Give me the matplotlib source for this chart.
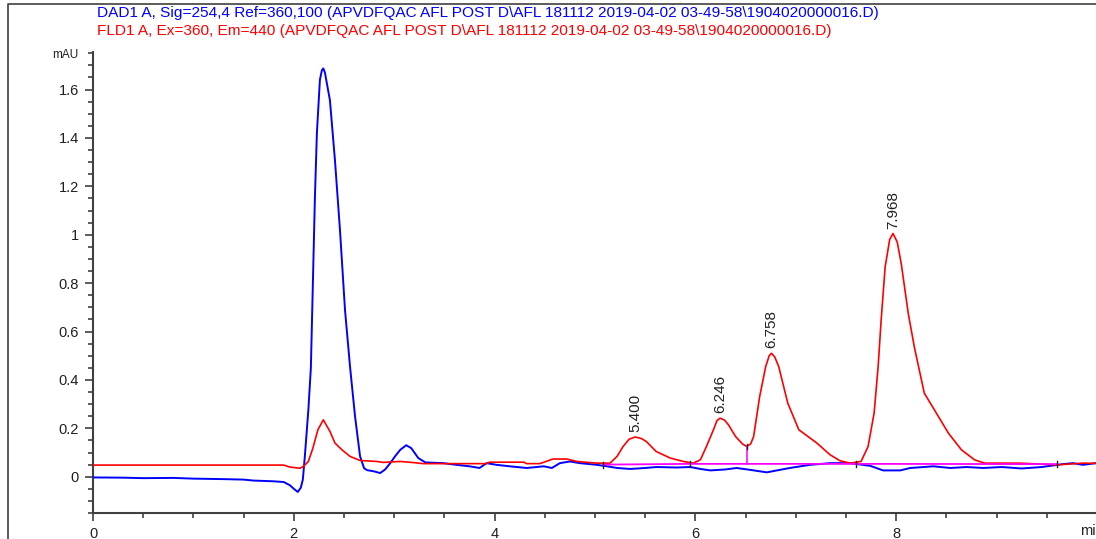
import numpy as np
import matplotlib
matplotlib.use('Agg')
import matplotlib.pyplot as plt
from matplotlib.lines import Line2D
from matplotlib.ticker import MultipleLocator

plt.rcParams['font.family'] = ['Liberation Sans', 'DejaVu Sans']

# DAD1 A trace (254 nm), min / mAU
dad_t = [0.0, 0.3, 0.5, 0.8, 1.0, 1.3, 1.5, 1.6, 1.8, 1.9, 1.96, 2.0, 2.04, 2.07,
         2.09, 2.11, 2.145, 2.17, 2.19, 2.21, 2.23, 2.26, 2.28, 2.294, 2.31, 2.36,
         2.41, 2.46, 2.51, 2.56, 2.61, 2.66, 2.70, 2.73, 2.80, 2.86, 2.91, 2.96,
         3.01, 3.06, 3.12, 3.17, 3.24, 3.31, 3.49, 3.62, 3.75, 3.85, 3.92, 4.02,
         4.15, 4.32, 4.49, 4.57, 4.65, 4.75, 4.85, 5.02, 5.12, 5.22, 5.35, 5.50,
         5.61, 5.81, 5.95, 6.05, 6.15, 6.30, 6.41, 6.55, 6.71, 6.80, 6.94, 7.14,
         7.34, 7.54, 7.74, 7.87, 8.04, 8.14, 8.37, 8.54, 8.70, 8.87, 9.05, 9.25,
         9.45, 9.66, 9.76, 9.86, 9.99]
dad_v = [-0.003, -0.004, -0.006, -0.005, -0.008, -0.010, -0.012, -0.016, -0.019,
         -0.022, -0.035, -0.050, -0.063, -0.045, -0.012, 0.084, 0.276, 0.45, 0.80,
         1.15, 1.42, 1.64, 1.68, 1.687, 1.67, 1.555, 1.307, 1.019, 0.689, 0.455,
         0.249, 0.084, 0.035, 0.027, 0.022, 0.015, 0.030, 0.056, 0.085, 0.111,
         0.130, 0.118, 0.077, 0.059, 0.056, 0.049, 0.043, 0.036, 0.056, 0.049,
         0.043, 0.036, 0.043, 0.036, 0.056, 0.063, 0.056, 0.049, 0.043, 0.036,
         0.032, 0.036, 0.040, 0.038, 0.040, 0.032, 0.026, 0.030, 0.036, 0.028,
         0.018, 0.025, 0.036, 0.049, 0.056, 0.056, 0.045, 0.026, 0.026, 0.036,
         0.043, 0.036, 0.040, 0.036, 0.040, 0.034, 0.040, 0.052, 0.056, 0.049,
         0.056]

# FLD1 A trace (Ex 360 / Em 440)
fld_t = [0.0, 1.9, 1.96, 2.06, 2.095, 2.145, 2.19, 2.24, 2.294, 2.36, 2.41, 2.48,
         2.56, 2.66, 2.83, 2.89, 3.06, 3.20, 3.29, 3.92, 3.95, 4.29, 4.32, 4.45,
         4.52, 4.58, 4.72, 4.82, 5.02, 5.15, 5.22, 5.28, 5.34, 5.40, 5.46, 5.51,
         5.61, 5.75, 5.88, 5.98, 6.05, 6.11, 6.18, 6.215, 6.246, 6.29, 6.33, 6.40,
         6.47, 6.51, 6.55, 6.58, 6.64, 6.70, 6.735, 6.758, 6.79, 6.83, 6.92, 7.03,
         7.21, 7.34, 7.44, 7.54, 7.65, 7.72, 7.78, 7.82, 7.85, 7.89, 7.935, 7.968,
         8.01, 8.05, 8.12, 8.18, 8.28, 8.42, 8.52, 8.65, 8.78, 8.88, 9.23, 9.60,
         9.86, 9.99]
fld_v = [0.048, 0.048, 0.040, 0.035, 0.042, 0.063, 0.118, 0.194, 0.235, 0.187,
         0.139, 0.111, 0.084, 0.067, 0.063, 0.059, 0.063, 0.058, 0.054, 0.054,
         0.060, 0.060, 0.054, 0.054, 0.064, 0.073, 0.073, 0.063, 0.056, 0.056,
         0.084, 0.125, 0.155, 0.164, 0.158, 0.146, 0.104, 0.077, 0.063, 0.056,
         0.070, 0.125, 0.194, 0.232, 0.242, 0.234, 0.214, 0.166, 0.135, 0.125,
         0.135, 0.166, 0.331, 0.455, 0.500, 0.510, 0.495, 0.455, 0.304, 0.194,
         0.139, 0.091, 0.066, 0.056, 0.063, 0.125, 0.263, 0.455, 0.647, 0.867,
         0.980, 1.005, 0.970, 0.881, 0.675, 0.537, 0.345, 0.249, 0.180, 0.111,
         0.070, 0.056, 0.056, 0.049, 0.056, 0.055]

# integrated peaks on the FLD signal
peak_rt = [5.400, 6.246, 6.758, 7.968]
peak_labels = ['5.400', '6.246', '6.758', '7.968']

# integration baseline events
base_t = [5.08, 5.95, 7.60, 9.60]
base_v = [0.050, 0.053, 0.053, 0.052]
drop_t = 6.51
drop_v = 0.125

fig = plt.figure(figsize=(10.96, 5.39), dpi=100)
ax = fig.add_axes([93 / 1096, 26 / 539, 1003 / 1096, 461 / 539])

ax.plot(dad_t, dad_v, color='#0000ff', lw=1.4, zorder=3)
ax.plot(fld_t, fld_v, color='#ff0000', lw=1.2, zorder=4)

ax.plot(base_t, base_v, color='#ff00ff', lw=1.3, zorder=5)
ax.plot([drop_t, drop_t], [np.interp(drop_t, base_t, base_v), drop_v],
        color='#ff00ff', lw=1.1, zorder=5)
# small event marks on the baseline
for t, v in zip(base_t + [drop_t], base_v + [drop_v]):
    ax.plot([t, t], [v - 0.012, v + 0.012], color='#202020', lw=1, zorder=6)

for rt, lab in zip(peak_rt, peak_labels):
    h = np.interp(rt, fld_t, fld_v)
    ax.annotate(lab, (rt, h), xytext=(0, 3.5), textcoords='offset points',
                rotation=90, ha='center', va='bottom', fontsize=11,
                color='#202020')

ax.set_xlim(0, 9.99)
ax.set_ylim(-0.15, 1.755)
for s in ['top', 'right']:
    ax.spines[s].set_visible(False)
for s in ['left', 'bottom']:
    ax.spines[s].set_color('#404040')
    ax.spines[s].set_linewidth(1.5)

ax.set_xticks([0, 2, 4, 6, 8])
ax.set_xticklabels(['0', '2', '4', '6', '8'])
ax.xaxis.set_minor_locator(MultipleLocator(0.5))
yt = [0, 0.2, 0.4, 0.6, 0.8, 1.0, 1.2, 1.4, 1.6]
ax.set_yticks(yt)
ax.set_yticklabels(['0', '0.2', '0.4', '0.6', '0.8', '1', '1.2', '1.4', '1.6'])
ax.yaxis.set_minor_locator(MultipleLocator(0.05))
ax.tick_params(which='major', length=6, width=1.2, color='#404040',
               labelsize=10.5, labelcolor='#202020', pad=4)
ax.tick_params(which='minor', length=3.5, width=1.2, color='#404040')

fig.text(78 / 1096, 1 - 55 / 539, 'mAU', ha='right', va='center',
         fontsize=8.5, color='#202020')
fig.text(1080 / 1096, 1 - 531 / 539, 'min', ha='left', va='center',
         fontsize=10.5, color='#202020')

fig.text(97 / 1096, 1 - 13 / 539,
         'DAD1 A, Sig=254,4 Ref=360,100 (APVDFQAC AFL POST D\\AFL 181112 '
         '2019-04-02 03-49-58\\1904020000016.D)',
         color='#0000ff', fontsize=11.1, va='center', ha='left')
fig.text(97 / 1096, 1 - 31 / 539,
         'FLD1 A, Ex=360, Em=440 (APVDFQAC AFL POST D\\AFL 181112 '
         '2019-04-02 03-49-58\\1904020000016.D)',
         color='#ff0000', fontsize=11.1, va='center', ha='left')

# outer panel frame
fig.add_artist(Line2D([8 / 1096, 8 / 1096, 1.0], [0.0, 1 - 4 / 539, 1 - 4 / 539],
                      transform=fig.transFigure, color='#404040', lw=1.2))

fig.savefig('out.png', dpi=100)
